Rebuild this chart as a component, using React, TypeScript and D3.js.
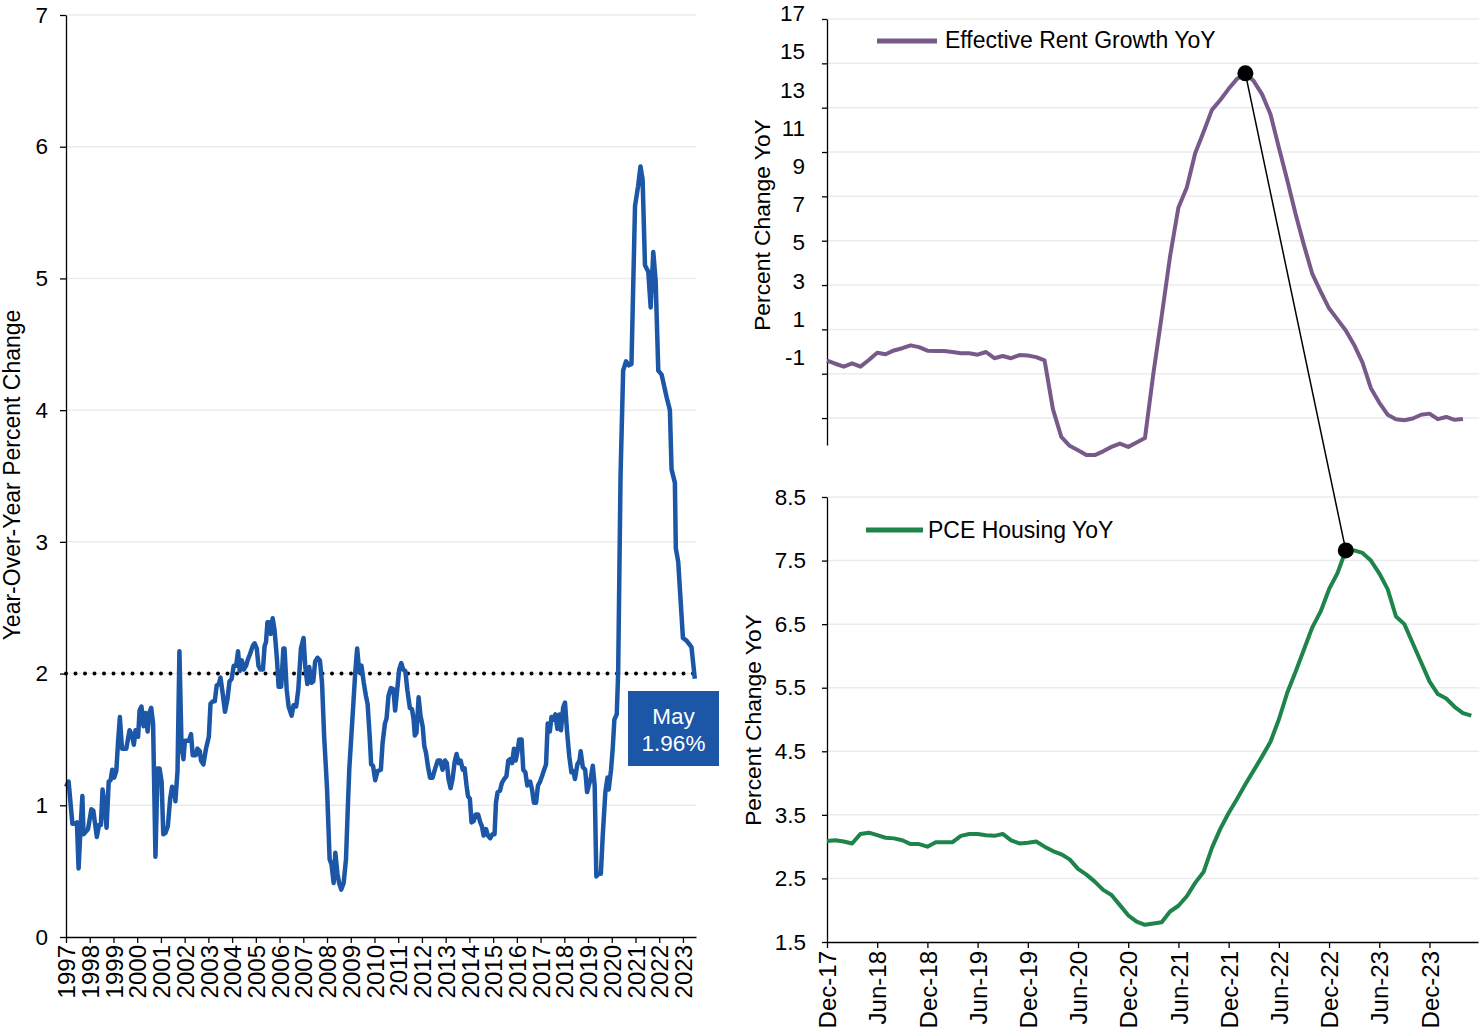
import React, { useEffect, useRef } from 'react';
import * as d3 from 'd3';

// PCE-style YoY series, 1997 - May 2023 (decimal year, percent)
const leftYears = [
  1997.0, 1997.11, 1997.27, 1997.36, 1997.46, 1997.53, 1997.62, 1997.69, 1997.74, 1997.93,
  1998.07, 1998.15, 1998.3, 1998.39, 1998.47, 1998.54, 1998.61, 1998.71, 1998.8, 1998.88,
  1998.95, 1999.03, 1999.12, 1999.19, 1999.27, 1999.36, 1999.54, 1999.68, 1999.78, 1999.86,
  1999.93, 2000.04, 2000.1, 2000.18, 2000.27, 2000.35, 2000.44, 2000.51, 2000.59, 2000.67,
  2000.77, 2000.86, 2000.94, 2001.03, 2001.1, 2001.19, 2001.29, 2001.39, 2001.47, 2001.56,
  2001.61, 2001.7, 2001.78, 2001.87, 2001.95, 2002.01, 2002.18, 2002.27, 2002.34, 2002.47,
  2002.54, 2002.64, 2002.69, 2002.79, 2002.9, 2003.02, 2003.09, 2003.19, 2003.27, 2003.35,
  2003.44, 2003.51, 2003.61, 2003.7, 2003.8, 2003.89, 2003.98, 2004.07, 2004.17, 2004.25,
  2004.32, 2004.41, 2004.49, 2004.59, 2004.67, 2004.76, 2004.87, 2004.95, 2005.04, 2005.11,
  2005.19, 2005.3, 2005.37, 2005.43, 2005.49, 2005.57, 2005.63, 2005.71, 2005.79, 2005.89,
  2005.96, 2006.07, 2006.16, 2006.21, 2006.3, 2006.38, 2006.51, 2006.59, 2006.7, 2006.79,
  2006.9, 2007.01, 2007.08, 2007.17, 2007.25, 2007.34, 2007.42, 2007.5, 2007.6, 2007.7,
  2007.79, 2007.88, 2008.0, 2008.11, 2008.19, 2008.28, 2008.35, 2008.44, 2008.51, 2008.6,
  2008.7, 2008.8, 2008.88, 2008.94, 2009.03, 2009.12, 2009.19, 2009.27, 2009.36, 2009.45,
  2009.55, 2009.64, 2009.71, 2009.8, 2009.86, 2009.94, 2010.03, 2010.13, 2010.27, 2010.34,
  2010.44, 2010.51, 2010.59, 2010.69, 2010.8, 2010.87, 2010.96, 2011.04, 2011.13, 2011.21,
  2011.3, 2011.39, 2011.49, 2011.58, 2011.65, 2011.7, 2011.77, 2011.86, 2011.94, 2012.03,
  2012.1, 2012.17, 2012.25, 2012.34, 2012.45, 2012.56, 2012.67, 2012.77, 2012.87, 2012.97,
  2013.05, 2013.12, 2013.21, 2013.29, 2013.38, 2013.46, 2013.55, 2013.63, 2013.72, 2013.8,
  2013.88, 2013.94, 2014.02, 2014.09, 2014.18, 2014.26, 2014.37, 2014.46, 2014.53, 2014.6,
  2014.7, 2014.78, 2014.88, 2014.97, 2015.06, 2015.12, 2015.19, 2015.29, 2015.37, 2015.47,
  2015.56, 2015.64, 2015.71, 2015.8, 2015.88, 2015.95, 2016.02, 2016.1, 2016.2, 2016.27,
  2016.36, 2016.44, 2016.56, 2016.64, 2016.72, 2016.81, 2016.89, 2016.98, 2017.06, 2017.15,
  2017.23, 2017.3, 2017.39, 2017.46, 2017.54, 2017.62, 2017.71, 2017.79, 2017.86, 2017.95,
  2018.03, 2018.12, 2018.21, 2018.3, 2018.38, 2018.45, 2018.55, 2018.64, 2018.69, 2018.78,
  2018.88, 2018.96, 2019.03, 2019.11, 2019.2, 2019.28, 2019.35, 2019.44, 2019.54, 2019.62,
  2019.73, 2019.82, 2019.87, 2019.97, 2020.04, 2020.11, 2020.21, 2020.27, 2020.37, 2020.48,
  2020.6, 2020.72, 2020.83, 2020.98, 2021.11, 2021.21, 2021.3, 2021.4, 2021.54, 2021.64,
  2021.75, 2021.85, 2021.96, 2022.1, 2022.31, 2022.45, 2022.52, 2022.66, 2022.7, 2022.8,
  2023.0, 2023.15, 2023.36, 2023.5,
];
const leftValues = [
  1.14, 1.18, 0.86, 0.86, 0.87, 0.52, 0.85, 1.07, 0.78, 0.82,
  0.97, 0.96, 0.76, 0.85, 0.85, 1.12, 1.03, 0.83, 1.18, 1.19,
  1.27, 1.21, 1.26, 1.47, 1.67, 1.43, 1.43, 1.57, 1.53, 1.46,
  1.57, 1.52, 1.72, 1.75, 1.6, 1.7, 1.56, 1.7, 1.74, 1.62,
  0.61, 1.28, 1.28, 1.18, 0.78, 0.79, 0.84, 1.05, 1.14, 1.12,
  1.03, 1.26, 2.17, 1.44, 1.35, 1.49, 1.49, 1.54, 1.38, 1.38,
  1.43, 1.41, 1.34, 1.31, 1.43, 1.52, 1.77, 1.79, 1.79, 1.91,
  1.92, 1.97, 1.84, 1.71, 1.8, 1.94, 1.96, 2.06, 2.06, 2.17,
  2.02, 2.1, 2.03, 2.06, 2.11, 2.15, 2.21, 2.23, 2.19, 2.06,
  2.03, 2.03, 2.21, 2.24, 2.39, 2.39, 2.3, 2.42, 2.33, 2.11,
  1.9, 1.9, 2.19, 2.19, 1.88, 1.75, 1.68, 1.76, 1.75, 1.88,
  2.19, 2.27, 2.06, 1.92, 2.05, 1.93, 1.94, 2.09, 2.12, 2.1,
  1.93, 1.52, 1.13, 0.59, 0.55, 0.41, 0.64, 0.48, 0.41, 0.36,
  0.41, 0.59, 1.0, 1.28, 1.54, 1.8, 2.01, 2.19, 2.01, 2.06,
  1.93, 1.83, 1.77, 1.52, 1.31, 1.3, 1.19, 1.26, 1.27, 1.47,
  1.62, 1.66, 1.83, 1.89, 1.88, 1.72, 1.88, 2.03, 2.08, 2.03,
  2.02, 1.87, 1.74, 1.73, 1.65, 1.53, 1.55, 1.82, 1.68, 1.6,
  1.45, 1.4, 1.3, 1.21, 1.21, 1.28, 1.34, 1.34, 1.27, 1.34,
  1.32, 1.2, 1.13, 1.2, 1.33, 1.39, 1.32, 1.34, 1.27, 1.28,
  1.15, 1.07, 1.05, 0.87, 0.88, 0.93, 0.93, 0.87, 0.84, 0.77,
  0.82, 0.77, 0.75, 0.78, 0.78, 1.02, 1.1, 1.11, 1.17, 1.2,
  1.22, 1.34, 1.35, 1.32, 1.43, 1.34, 1.4, 1.5, 1.5, 1.27,
  1.25, 1.15, 1.18, 1.12, 1.02, 1.02, 1.15, 1.18, 1.22, 1.27,
  1.31, 1.62, 1.56, 1.67, 1.65, 1.69, 1.58, 1.69, 1.57, 1.74,
  1.78, 1.55, 1.37, 1.25, 1.26, 1.2, 1.31, 1.34, 1.41, 1.29,
  1.27, 1.1, 1.15, 1.2, 1.3, 1.15, 0.46, 0.48, 0.48, 0.77,
  1.1, 1.21, 1.12, 1.27, 1.43, 1.65, 1.69, 2.01, 3.5, 4.3,
  4.37, 4.34, 4.35, 5.55, 5.7, 5.85, 5.75, 5.1, 5.05, 4.78,
  5.2, 4.98, 4.3, 4.27, 4.1, 4.0, 3.55, 3.45, 2.95, 2.85,
  2.27, 2.25, 2.2, 1.96,
];
const leftYTicks = [0, 1, 2, 3, 4, 5, 6, 7];
const leftYearTicks = [
  1997, 1998, 1999, 2000, 2001, 2002, 2003, 2004, 2005, 2006, 2007, 2008, 2009,
  2010, 2011, 2012, 2013, 2014, 2015, 2016, 2017, 2018, 2019, 2020, 2021, 2022, 2023,
];
const targetLevel = 2;
const calloutLines = ['May', '1.96%'];

// Monthly series, index 0 = Dec-17
const rentValues = [
  1.59, 1.45, 1.32, 1.47, 1.32, 1.62, 1.95, 1.88, 2.05, 2.15,
  2.28, 2.2, 2.04, 2.03, 2.02, 1.98, 1.92, 1.92, 1.86, 1.98,
  1.7, 1.8, 1.7, 1.84, 1.82, 1.75, 1.6, -0.6, -1.85, -2.25,
  -2.45, -2.67, -2.67, -2.5, -2.3, -2.15, -2.3, -2.1, -1.9, 1.0,
  3.6, 6.3, 8.5, 9.4, 10.94, 11.9, 12.9, 13.35, 13.85, 14.3,
  14.55, 14.2, 13.6, 12.7, 11.2, 9.74, 8.2, 6.8, 5.5, 4.7,
  3.95, 3.45, 2.95, 2.3, 1.5, 0.35, -0.3, -0.85, -1.05, -1.1,
  -1.02, -0.85, -0.8, -1.05, -0.95, -1.08, -1.04,
];
const pceValues = [
  3.09, 3.1, 3.08, 3.05, 3.2, 3.22, 3.18, 3.14, 3.13, 3.1,
  3.04, 3.04, 3.0, 3.07, 3.07, 3.07, 3.17, 3.2, 3.2, 3.18,
  3.17, 3.2, 3.1, 3.05, 3.06, 3.08, 3.0, 2.93, 2.88, 2.8,
  2.65, 2.56, 2.45, 2.32, 2.24, 2.08, 1.92, 1.82, 1.77, 1.79,
  1.81, 1.98, 2.07, 2.22, 2.43, 2.6, 2.98, 3.28, 3.53, 3.75,
  3.98, 4.2, 4.42, 4.65, 5.0, 5.42, 5.75, 6.1, 6.45, 6.7,
  7.05, 7.3, 7.66, 7.66, 7.62, 7.5, 7.3, 7.05, 6.62, 6.5,
  6.2, 5.9, 5.6, 5.4, 5.33, 5.2, 5.1, 5.06,
];
const rentPeakMonth = 50;
const pcePeakMonth = 62;
const rentTicks = [17, 15, 13, 11, 9, 7, 5, 3, 1, -1];
const pceTicks = [1.5, 2.5, 3.5, 4.5, 5.5, 6.5, 7.5, 8.5];
const monthTickLabels = [
  'Dec-17', 'Jun-18', 'Dec-18', 'Jun-19', 'Dec-19', 'Jun-20', 'Dec-20',
  'Jun-21', 'Dec-21', 'Jun-22', 'Dec-22', 'Jun-23', 'Dec-23',
];

const W = 1479;
const H = 1033;
const FONT = "'Liberation Sans', Arial, Helvetica, sans-serif";
const BLUE = '#1b57a6';
const PURPLE = '#785a8a';
const GREEN = '#1e8449';
const GRID = '#ebebeb';

const styleAxis = (g, size) => {
  g.attr('font-family', FONT).attr('font-size', size);
  g.select('.domain').attr('stroke', '#000').attr('stroke-width', 1.3);
  g.selectAll('.tick line').attr('stroke', '#000').attr('stroke-width', 1.3);
  g.selectAll('.tick text').attr('fill', '#000');
};

export default function App() {
  const svgRef = useRef(null);

  useEffect(() => {
    const svg = d3.select(svgRef.current);
    svg.selectAll('*').remove();
    svg.append('rect').attr('width', W).attr('height', H).attr('fill', '#fff');

    // ---------- left chart ----------
    const xL = d3.scaleLinear().domain([1997, 2023.55]).range([66, 696]);
    const yL = d3.scaleLinear().domain([0, 7]).range([937, 15]);
    const gL = svg.append('g');

    gL.selectAll('.gridL')
      .data(leftYTicks.slice(1))
      .join('line')
      .attr('x1', xL.range()[0])
      .attr('x2', xL.range()[1])
      .attr('y1', d => yL(d))
      .attr('y2', d => yL(d))
      .attr('stroke', GRID)
      .attr('stroke-width', 1.5);

    // 2% reference
    gL.append('line')
      .attr('x1', xL(1997))
      .attr('x2', xL(2023.45))
      .attr('y1', yL(targetLevel))
      .attr('y2', yL(targetLevel))
      .attr('stroke', '#000')
      .attr('stroke-width', 4)
      .attr('stroke-linecap', 'round')
      .attr('stroke-dasharray', '0 9.5');

    const lineL = d3.line().x(d => xL(d[0])).y(d => yL(d[1]));
    gL.append('path')
      .datum(leftYears.map((yr, i) => [yr, leftValues[i]]))
      .attr('d', lineL)
      .attr('fill', 'none')
      .attr('stroke', BLUE)
      .attr('stroke-width', 4.5)
      .attr('stroke-linejoin', 'round');

    const yAxisL = gL.append('g')
      .attr('transform', `translate(${xL.range()[0]},0)`)
      .call(d3.axisLeft(yL).tickValues(leftYTicks).tickSize(6).tickSizeOuter(0).tickPadding(12).tickFormat(d3.format('d')));
    styleAxis(yAxisL, 22.5);

    const xAxisL = gL.append('g')
      .attr('transform', `translate(0,${yL(0)})`)
      .call(d3.axisBottom(xL).tickValues(leftYearTicks).tickSize(6).tickSizeOuter(0).tickFormat(d => String(d)));
    styleAxis(xAxisL, 24);
    xAxisL.selectAll('.tick text')
      .attr('x', -8)
      .attr('y', 0)
      .attr('dy', '0.36em')
      .attr('transform', 'rotate(-90)')
      .attr('text-anchor', 'end');

    svg.append('text')
      .attr('transform', 'translate(20,475) rotate(-90)')
      .attr('text-anchor', 'middle')
      .attr('font-family', FONT)
      .attr('font-size', 23)
      .text('Year-Over-Year Percent Change');

    // callout box
    const box = svg.append('g').attr('transform', 'translate(628,691)');
    box.append('rect').attr('width', 91).attr('height', 75).attr('fill', BLUE);
    box.selectAll('text')
      .data(calloutLines)
      .join('text')
      .attr('x', 45.5)
      .attr('y', (d, i) => 33 + i * 27)
      .attr('text-anchor', 'middle')
      .attr('font-family', FONT)
      .attr('font-size', 22.5)
      .attr('fill', '#fff')
      .text(d => d);

    // ---------- right charts ----------
    const xR = d3.scaleLinear().domain([0, 77.8]).range([827, 1478]);

    // top: effective rent
    const yT = d3.scaleLinear().domain([-2.215, 17]).range([445, 19]);
    const labelT = d3.scaleLinear().domain([-1, 17]).range([357, 13]);
    const gT = svg.append('g');

    gT.selectAll('.gridT')
      .data(rentTicks)
      .join('line')
      .attr('x1', 827)
      .attr('x2', W)
      .attr('y1', d => yT(d))
      .attr('y2', d => yT(d))
      .attr('stroke', GRID)
      .attr('stroke-width', 1.5);

    const yAxisT = gT.append('g')
      .attr('transform', 'translate(827,0)')
      .call(d3.axisLeft(yT).tickValues(rentTicks).tickSize(5).tickSizeOuter(0).tickFormat(() => ''));
    styleAxis(yAxisT, 22);

    gT.selectAll('.lblT')
      .data(rentTicks)
      .join('text')
      .attr('x', 805)
      .attr('y', d => labelT(d))
      .attr('dy', '0.36em')
      .attr('text-anchor', 'end')
      .attr('font-family', FONT)
      .attr('font-size', 22.5)
      .text(d => d);

    const lineT = d3.line().x((d, i) => xR(i)).y(d => yT(d));
    gT.append('path')
      .datum(rentValues)
      .attr('d', lineT)
      .attr('fill', 'none')
      .attr('stroke', PURPLE)
      .attr('stroke-width', 4)
      .attr('stroke-linejoin', 'round');

    svg.append('text')
      .attr('transform', 'translate(770,225) rotate(-90)')
      .attr('text-anchor', 'middle')
      .attr('font-family', FONT)
      .attr('font-size', 22.8)
      .text('Percent Change YoY');

    gT.append('line')
      .attr('x1', 877).attr('x2', 937).attr('y1', 41).attr('y2', 41)
      .attr('stroke', PURPLE).attr('stroke-width', 5);
    gT.append('text')
      .attr('x', 945).attr('y', 48)
      .attr('font-family', FONT).attr('font-size', 23)
      .text('Effective Rent Growth YoY');

    // bottom: PCE housing
    const yB = d3.scaleLinear().domain([1.5, 8.5]).range([942, 497]);
    const gB = svg.append('g');

    gB.selectAll('.gridB')
      .data(pceTicks.slice(1))
      .join('line')
      .attr('x1', 827)
      .attr('x2', W)
      .attr('y1', d => yB(d))
      .attr('y2', d => yB(d))
      .attr('stroke', GRID)
      .attr('stroke-width', 1.5);

    const yAxisB = gB.append('g')
      .attr('transform', 'translate(827,0)')
      .call(d3.axisLeft(yB).tickValues(pceTicks).tickSize(5).tickSizeOuter(0).tickPadding(16).tickFormat(d3.format('.1f')));
    styleAxis(yAxisB, 22.5);

    const xAxisB = gB.append('g')
      .attr('transform', `translate(0,${yB(1.5)})`)
      .call(d3.axisBottom(xR).tickValues(monthTickLabels.map((_, i) => i * 6)).tickSize(6).tickSizeOuter(0)
        .tickFormat((d, i) => monthTickLabels[i]));
    styleAxis(xAxisB, 24);
    xAxisB.selectAll('.tick text')
      .attr('x', -9)
      .attr('y', 0)
      .attr('dy', '0.36em')
      .attr('transform', 'rotate(-90)')
      .attr('text-anchor', 'end');

    const lineB = d3.line().x((d, i) => xR(i)).y(d => yB(d));
    gB.append('path')
      .datum(pceValues)
      .attr('d', lineB)
      .attr('fill', 'none')
      .attr('stroke', GREEN)
      .attr('stroke-width', 4)
      .attr('stroke-linejoin', 'round');

    svg.append('text')
      .attr('transform', 'translate(761,720) rotate(-90)')
      .attr('text-anchor', 'middle')
      .attr('font-family', FONT)
      .attr('font-size', 22.8)
      .text('Percent Change YoY');

    gB.append('line')
      .attr('x1', 866).attr('x2', 923).attr('y1', 530).attr('y2', 530)
      .attr('stroke', GREEN).attr('stroke-width', 5);
    gB.append('text')
      .attr('x', 928).attr('y', 538)
      .attr('font-family', FONT).attr('font-size', 23)
      .text('PCE Housing YoY');

    // peak connector
    const p1 = [xR(rentPeakMonth), yT(rentValues[rentPeakMonth])];
    const p2 = [xR(pcePeakMonth), yB(pceValues[pcePeakMonth])];
    svg.append('line')
      .attr('x1', p1[0]).attr('y1', p1[1])
      .attr('x2', p2[0]).attr('y2', p2[1])
      .attr('stroke', '#000').attr('stroke-width', 1.5);
    svg.selectAll('.peak')
      .data([p1, p2])
      .join('circle')
      .attr('cx', d => d[0])
      .attr('cy', d => d[1])
      .attr('r', 8)
      .attr('fill', '#000');
  }, []);

  return (
    <svg
      ref={svgRef}
      width={W}
      height={H}
      style={{ position: 'absolute', left: 0, top: 0, display: 'block' }}
    />
  );
}
